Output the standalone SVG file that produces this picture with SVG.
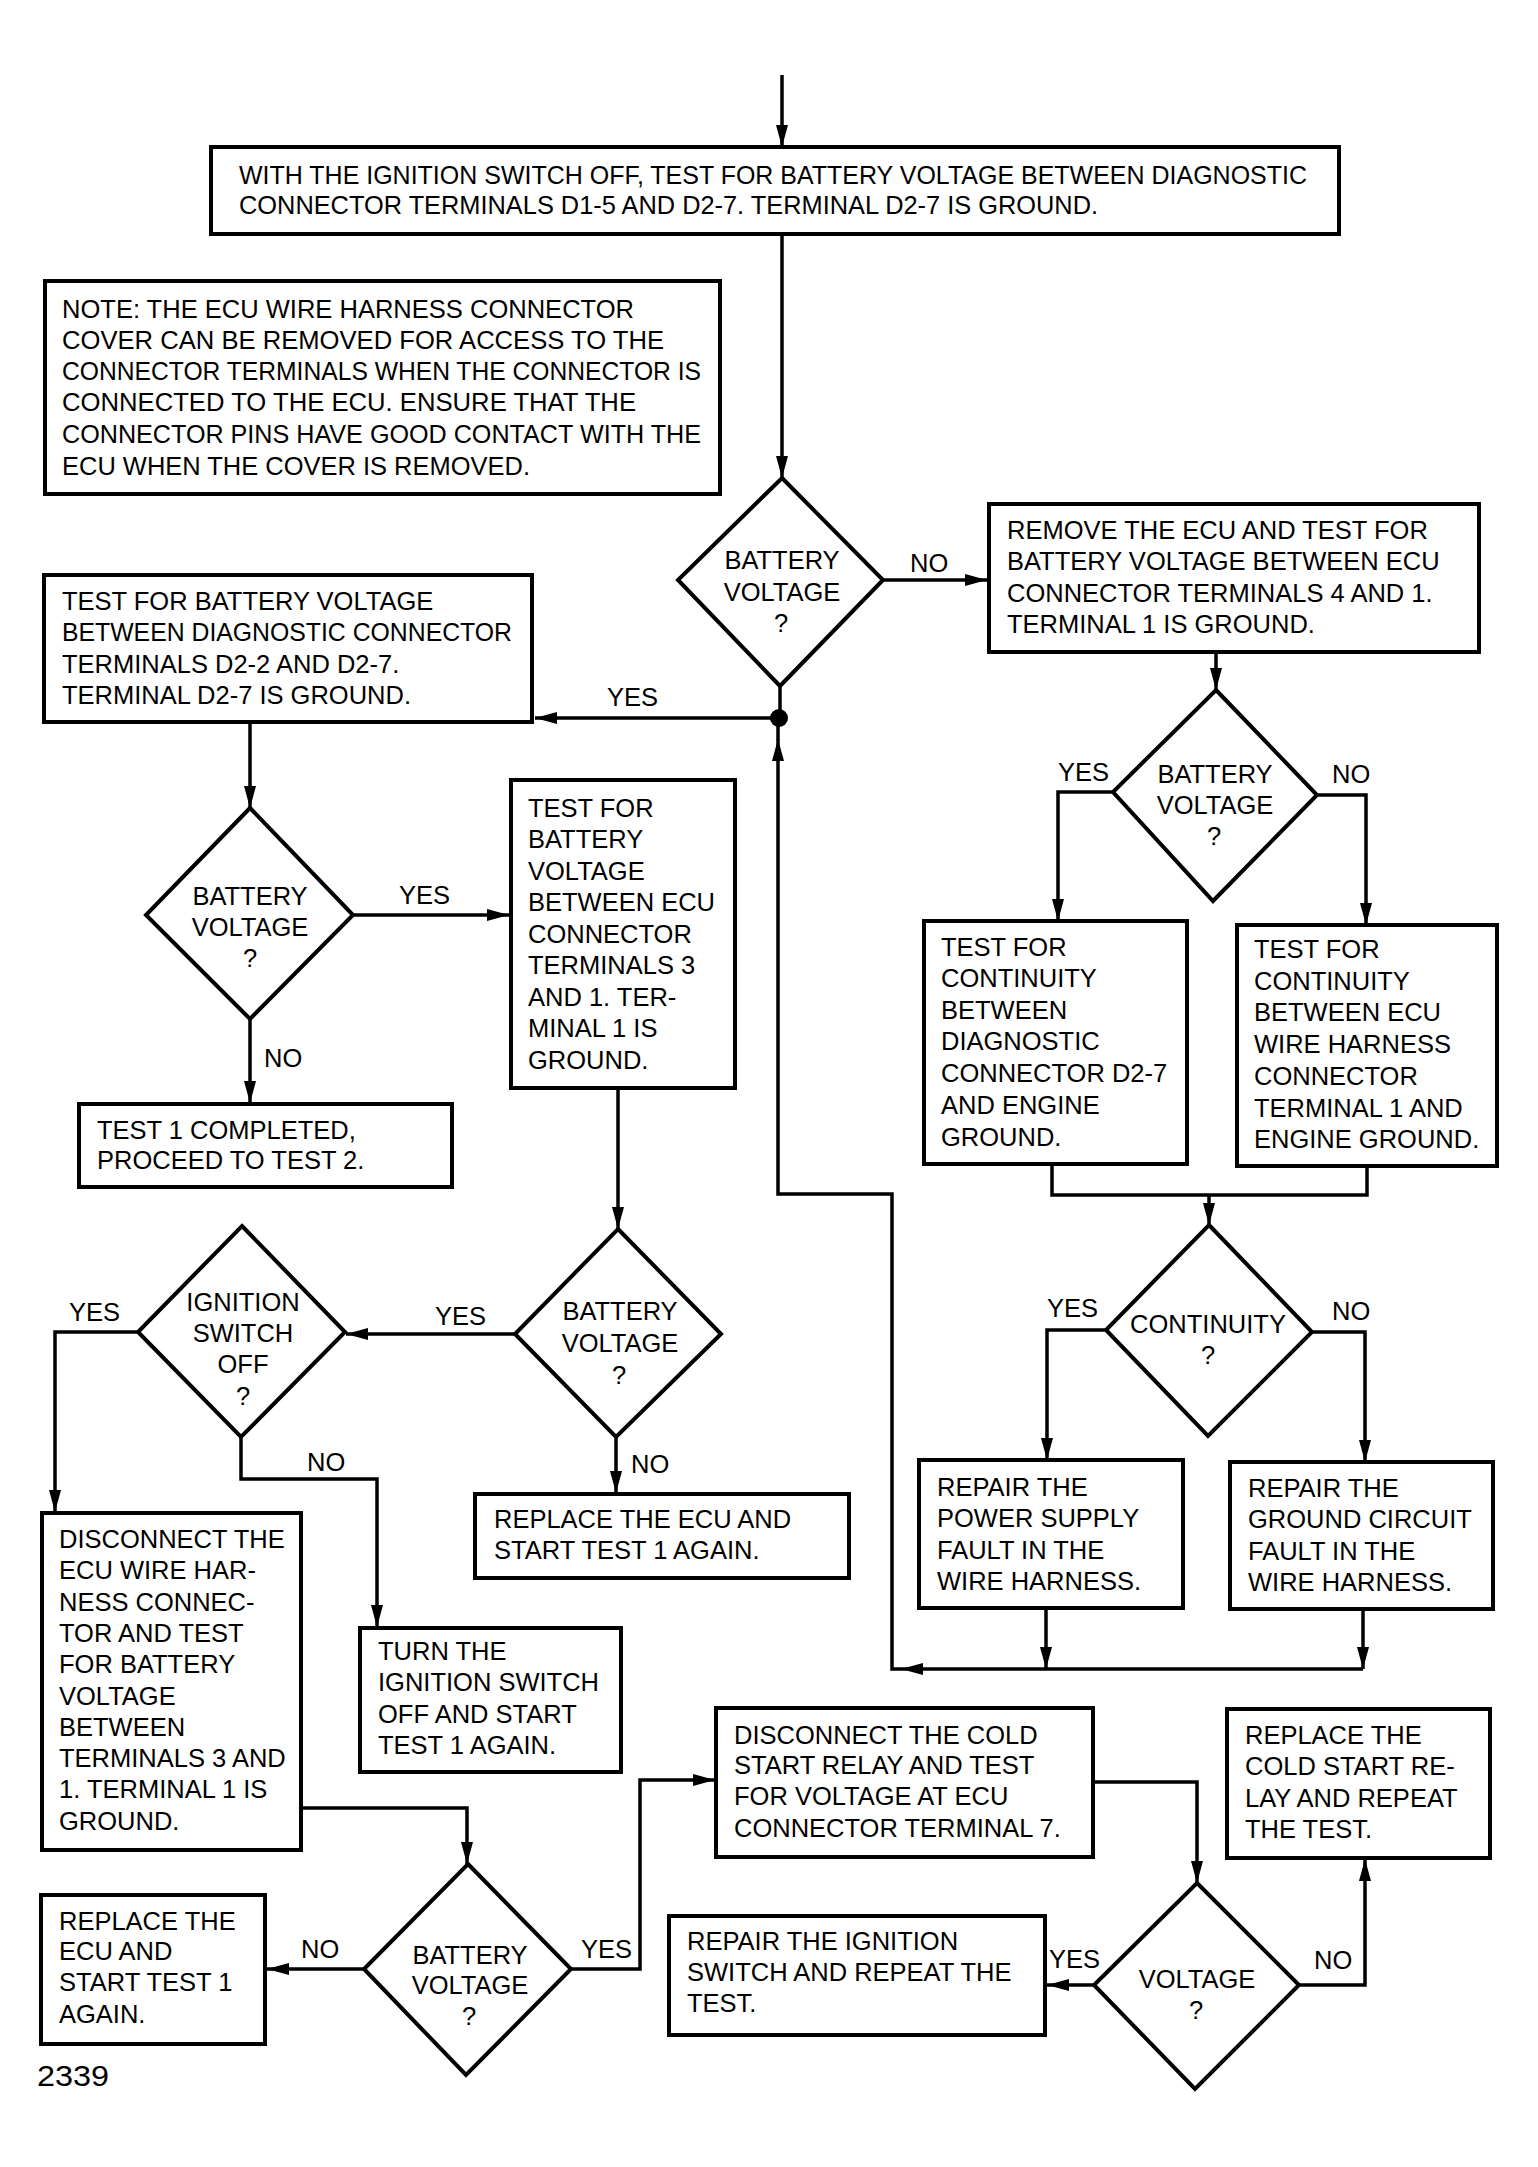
<svg xmlns="http://www.w3.org/2000/svg" width="1538" height="2167" viewBox="0 0 1538 2167">
<style>
.box{fill:#fff;stroke:#000;stroke-width:4}
.dia{fill:#fff;stroke:#000;stroke-width:4;stroke-linejoin:miter}
.conn{fill:none;stroke:#000;stroke-width:3.5}
text{font-family:"Liberation Sans",Arial,Helvetica,sans-serif;font-size:25.5px;fill:#000}
.c{text-anchor:middle}
</style>
<defs>
<marker id="arr" markerUnits="userSpaceOnUse" markerWidth="22" markerHeight="12" refX="22" refY="6" orient="auto">
<path d="M0,0 L22,6 L0,12 Z" fill="#000"/>
</marker>
</defs>
<rect width="1538" height="2167" fill="#fff"/>

<g id="connectors">
<path class="conn" d="M782,75 V147" marker-end="url(#arr)"/>
<path class="conn" d="M782,234 V478" marker-end="url(#arr)"/>
<path class="conn" d="M883,580 H987" marker-end="url(#arr)"/>
<path class="conn" d="M780,686 V718"/>
<path class="conn" d="M779,718 H535" marker-end="url(#arr)"/>
<path class="conn" d="M250,722 V808" marker-end="url(#arr)"/>
<path class="conn" d="M353,915 H509" marker-end="url(#arr)"/>
<path class="conn" d="M250,1019 V1103" marker-end="url(#arr)"/>
<path class="conn" d="M618,1088 V1229" marker-end="url(#arr)"/>
<path class="conn" d="M515,1334 H346" marker-end="url(#arr)"/>
<path class="conn" d="M616,1437 V1493" marker-end="url(#arr)"/>
<path class="conn" d="M138,1332 H55 V1512" marker-end="url(#arr)"/>
<path class="conn" d="M241,1437 V1479 H377 V1627" marker-end="url(#arr)"/>
<path class="conn" d="M301,1808 H467 V1864" marker-end="url(#arr)"/>
<path class="conn" d="M364,1969 H267" marker-end="url(#arr)"/>
<path class="conn" d="M571,1969 H640 V1780 H715" marker-end="url(#arr)"/>
<path class="conn" d="M1093,1782 H1197 V1883" marker-end="url(#arr)"/>
<path class="conn" d="M1094,1985 H1047" marker-end="url(#arr)"/>
<path class="conn" d="M1299,1985 H1365 V1859" marker-end="url(#arr)"/>
<path class="conn" d="M1216,652 V690" marker-end="url(#arr)"/>
<path class="conn" d="M1113,792 H1058 V921" marker-end="url(#arr)"/>
<path class="conn" d="M1317,795 H1366 V925" marker-end="url(#arr)"/>
<path class="conn" d="M1052,1164 V1195 H1367 V1166"/>
<path class="conn" d="M1209,1195 V1225" marker-end="url(#arr)"/>
<path class="conn" d="M1106,1330 H1047 V1460" marker-end="url(#arr)"/>
<path class="conn" d="M1312,1332 H1365 V1462" marker-end="url(#arr)"/>
<path class="conn" d="M1046,1608 V1669" marker-end="url(#arr)"/>
<path class="conn" d="M1363,1609 V1669" marker-end="url(#arr)"/>
<path class="conn" d="M1363,1669 H901" marker-end="url(#arr)"/>
<path class="conn" d="M901,1669 H892 V1194 H778 V739" marker-end="url(#arr)"/>
<path class="conn" d="M778,740 V718"/>
<circle cx="779" cy="718" r="9" fill="#000"/>
</g>

<g id="n-top">
<rect class="box" x="211" y="147" width="1128" height="87"/>
<text x="239" y="184" textLength="1068" lengthAdjust="spacingAndGlyphs">WITH THE IGNITION SWITCH OFF, TEST FOR BATTERY VOLTAGE BETWEEN DIAGNOSTIC</text>
<text x="239" y="214" textLength="859" lengthAdjust="spacingAndGlyphs">CONNECTOR TERMINALS D1-5 AND D2-7. TERMINAL D2-7 IS GROUND.</text>
</g>

<g id="n-note">
<rect class="box" x="45" y="281" width="675" height="213"/>
<text x="62" y="318" textLength="572" lengthAdjust="spacingAndGlyphs">NOTE: THE ECU WIRE HARNESS CONNECTOR</text>
<text x="62" y="349" textLength="602" lengthAdjust="spacingAndGlyphs">COVER CAN BE REMOVED FOR ACCESS TO THE</text>
<text x="62" y="380" textLength="639" lengthAdjust="spacingAndGlyphs">CONNECTOR TERMINALS WHEN THE CONNECTOR IS</text>
<text x="62" y="411" textLength="574" lengthAdjust="spacingAndGlyphs">CONNECTED TO THE ECU. ENSURE THAT THE</text>
<text x="62" y="443" textLength="639" lengthAdjust="spacingAndGlyphs">CONNECTOR PINS HAVE GOOD CONTACT WITH THE</text>
<text x="62" y="475" textLength="468" lengthAdjust="spacingAndGlyphs">ECU WHEN THE COVER IS REMOVED.</text>
</g>

<g id="d-battery1">
<polygon class="dia" points="782,478 883,580 780,686 678,580"/>
<text class="c" x="782" y="569">BATTERY</text>
<text class="c" x="782" y="601">VOLTAGE</text>
<text class="c" x="781" y="632">?</text>
</g>

<g id="n-remove-ecu">
<rect class="box" x="989" y="504" width="490" height="148"/>
<text x="1007" y="539">REMOVE THE ECU AND TEST FOR</text>
<text x="1007" y="570">BATTERY VOLTAGE BETWEEN ECU</text>
<text x="1007" y="602">CONNECTOR TERMINALS 4 AND 1.</text>
<text x="1007" y="633">TERMINAL 1 IS GROUND.</text>
</g>

<g id="n-test-d22">
<rect class="box" x="44" y="575" width="488" height="147"/>
<text x="62" y="610">TEST FOR BATTERY VOLTAGE</text>
<text x="62" y="641" textLength="450" lengthAdjust="spacingAndGlyphs">BETWEEN DIAGNOSTIC CONNECTOR</text>
<text x="62" y="673">TERMINALS D2-2 AND D2-7.</text>
<text x="62" y="704">TERMINAL D2-7 IS GROUND.</text>
</g>

<g id="d-battery2">
<polygon class="dia" points="250,808 353,915 250,1019 146,915"/>
<text class="c" x="250" y="905">BATTERY</text>
<text class="c" x="250" y="936">VOLTAGE</text>
<text class="c" x="250" y="967">?</text>
</g>

<g id="n-test-ecu3">
<rect class="box" x="511" y="780" width="224" height="308"/>
<text x="528" y="817">TEST FOR</text>
<text x="528" y="848">BATTERY</text>
<text x="528" y="880">VOLTAGE</text>
<text x="528" y="911">BETWEEN ECU</text>
<text x="528" y="943">CONNECTOR</text>
<text x="528" y="974">TERMINALS 3</text>
<text x="528" y="1006">AND 1. TER-</text>
<text x="528" y="1037">MINAL 1 IS</text>
<text x="528" y="1069">GROUND.</text>
</g>

<g id="n-test1-done">
<rect class="box" x="79" y="1104" width="373" height="83"/>
<text x="97" y="1139">TEST 1 COMPLETED,</text>
<text x="97" y="1169">PROCEED TO TEST 2.</text>
</g>

<g id="d-battery-right">
<polygon class="dia" points="1216,690 1317,795 1213,901 1113,792"/>
<text class="c" x="1215" y="783">BATTERY</text>
<text class="c" x="1215" y="814">VOLTAGE</text>
<text class="c" x="1214" y="845">?</text>
</g>

<g id="n-cont-diag">
<rect class="box" x="924" y="921" width="263" height="243"/>
<text x="941" y="956">TEST FOR</text>
<text x="941" y="987">CONTINUITY</text>
<text x="941" y="1019">BETWEEN</text>
<text x="941" y="1050">DIAGNOSTIC</text>
<text x="941" y="1082">CONNECTOR D2-7</text>
<text x="941" y="1114">AND ENGINE</text>
<text x="941" y="1146">GROUND.</text>
</g>

<g id="n-cont-ecu">
<rect class="box" x="1237" y="925" width="260" height="241"/>
<text x="1254" y="958">TEST FOR</text>
<text x="1254" y="990">CONTINUITY</text>
<text x="1254" y="1021">BETWEEN ECU</text>
<text x="1254" y="1053">WIRE HARNESS</text>
<text x="1254" y="1085">CONNECTOR</text>
<text x="1254" y="1117">TERMINAL 1 AND</text>
<text x="1254" y="1148">ENGINE GROUND.</text>
</g>

<g id="d-continuity">
<polygon class="dia" points="1209,1225 1312,1332 1208,1436 1106,1330"/>
<text class="c" x="1208" y="1333">CONTINUITY</text>
<text class="c" x="1208" y="1364">?</text>
</g>

<g id="d-ignition">
<polygon class="dia" points="242,1226 345,1332 241,1437 138,1332"/>
<text class="c" x="243" y="1311">IGNITION</text>
<text class="c" x="243" y="1342">SWITCH</text>
<text class="c" x="243" y="1373">OFF</text>
<text class="c" x="243" y="1405">?</text>
</g>

<g id="d-battery3">
<polygon class="dia" points="618,1229 721,1334 616,1437 515,1334"/>
<text class="c" x="620" y="1320">BATTERY</text>
<text class="c" x="620" y="1352">VOLTAGE</text>
<text class="c" x="619" y="1384">?</text>
</g>

<g id="n-replace-ecu1">
<rect class="box" x="475" y="1494" width="374" height="84"/>
<text x="494" y="1528">REPLACE THE ECU AND</text>
<text x="494" y="1559">START TEST 1 AGAIN.</text>
</g>

<g id="n-power-supply">
<rect class="box" x="919" y="1460" width="264" height="148"/>
<text x="937" y="1496">REPAIR THE</text>
<text x="937" y="1527">POWER SUPPLY</text>
<text x="937" y="1559">FAULT IN THE</text>
<text x="937" y="1590">WIRE HARNESS.</text>
</g>

<g id="n-ground-circuit">
<rect class="box" x="1230" y="1462" width="263" height="147"/>
<text x="1248" y="1497">REPAIR THE</text>
<text x="1248" y="1528">GROUND CIRCUIT</text>
<text x="1248" y="1560">FAULT IN THE</text>
<text x="1248" y="1591">WIRE HARNESS.</text>
</g>

<g id="n-disconnect-ecu">
<rect class="box" x="42" y="1513" width="259" height="337"/>
<text x="59" y="1548">DISCONNECT THE</text>
<text x="59" y="1579">ECU WIRE HAR-</text>
<text x="59" y="1611">NESS CONNEC-</text>
<text x="59" y="1642">TOR AND TEST</text>
<text x="59" y="1673">FOR BATTERY</text>
<text x="59" y="1705">VOLTAGE</text>
<text x="59" y="1736">BETWEEN</text>
<text x="59" y="1767">TERMINALS 3 AND</text>
<text x="59" y="1798">1. TERMINAL 1 IS</text>
<text x="59" y="1830">GROUND.</text>
</g>

<g id="n-turn-ignition">
<rect class="box" x="360" y="1628" width="261" height="144"/>
<text x="378" y="1660">TURN THE</text>
<text x="378" y="1691">IGNITION SWITCH</text>
<text x="378" y="1723">OFF AND START</text>
<text x="378" y="1754">TEST 1 AGAIN.</text>
</g>

<g id="n-disconnect-cold">
<rect class="box" x="716" y="1708" width="377" height="149"/>
<text x="734" y="1744">DISCONNECT THE COLD</text>
<text x="734" y="1774">START RELAY AND TEST</text>
<text x="734" y="1805">FOR VOLTAGE AT ECU</text>
<text x="734" y="1837">CONNECTOR TERMINAL 7.</text>
</g>

<g id="n-replace-cold">
<rect class="box" x="1227" y="1709" width="263" height="149"/>
<text x="1245" y="1744">REPLACE THE</text>
<text x="1245" y="1775">COLD START RE-</text>
<text x="1245" y="1807">LAY AND REPEAT</text>
<text x="1245" y="1838">THE TEST.</text>
</g>

<g id="d-battery4">
<polygon class="dia" points="468,1864 571,1969 466,2075 364,1969"/>
<text class="c" x="470" y="1964">BATTERY</text>
<text class="c" x="470" y="1994">VOLTAGE</text>
<text class="c" x="469" y="2025">?</text>
</g>

<g id="n-replace-ecu2">
<rect class="box" x="41" y="1895" width="224" height="149"/>
<text x="59" y="1930">REPLACE THE</text>
<text x="59" y="1960">ECU AND</text>
<text x="59" y="1991">START TEST 1</text>
<text x="59" y="2023">AGAIN.</text>
</g>

<g id="n-repair-ignition">
<rect class="box" x="669" y="1916" width="376" height="119"/>
<text x="687" y="1950">REPAIR THE IGNITION</text>
<text x="687" y="1981">SWITCH AND REPEAT THE</text>
<text x="687" y="2012">TEST.</text>
</g>

<g id="d-voltage">
<polygon class="dia" points="1197,1883 1299,1985 1195,2089 1094,1985"/>
<text class="c" x="1197" y="1988">VOLTAGE</text>
<text class="c" x="1196" y="2019">?</text>
</g>

<g id="labels">
<text x="910" y="572">NO</text>
<text x="607" y="706">YES</text>
<text x="399" y="904">YES</text>
<text x="264" y="1067">NO</text>
<text x="435" y="1325">YES</text>
<text x="631" y="1473">NO</text>
<text x="69" y="1321">YES</text>
<text x="307" y="1471">NO</text>
<text x="301" y="1958">NO</text>
<text x="581" y="1958">YES</text>
<text x="1049" y="1968">YES</text>
<text x="1314" y="1969">NO</text>
<text x="1058" y="781">YES</text>
<text x="1332" y="783">NO</text>
<text x="1047" y="1317">YES</text>
<text x="1332" y="1320">NO</text>
<text x="37" y="2086" style="font-size:29px" textLength="72" lengthAdjust="spacingAndGlyphs">2339</text>
</g>
</svg>
